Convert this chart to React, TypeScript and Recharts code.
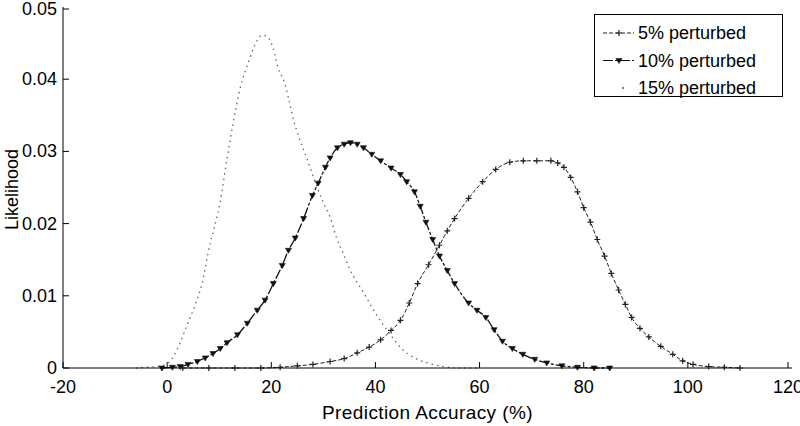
import React from "react";
import { LineChart, Line, XAxis, YAxis, Legend } from "recharts";

const xTicks = [-20, 0, 20, 40, 60, 80, 100, 120];
const yTicks = [0, 0.01, 0.02, 0.03, 0.04, 0.05];
const seriesNames = ["5% perturbed", "10% perturbed", "15% perturbed"];

const p5x = [3, 8, 13, 18, 21.7, 25, 28, 31.3, 34, 36.5, 38.8, 41, 43, 44.8, 46.5, 48.1, 50.2, 52.3, 53.8, 55.2, 57.9, 60.6, 63.1, 65.8, 68.4, 71, 73.7, 75, 76.2, 77.5, 78.8, 80, 81.3, 82.6, 84, 85.3, 86.7, 88, 89.2, 90.8, 92.5, 94.8, 97.1, 99, 101, 104, 107, 110];
const p5y = [0, 0, 0, 0, 0.0001, 0.0003, 0.0005, 0.0009, 0.0013, 0.0021, 0.0029, 0.0039, 0.0052, 0.0066, 0.009, 0.0117, 0.0143, 0.017, 0.019, 0.0207, 0.0235, 0.0258, 0.0275, 0.0285, 0.0287, 0.0287, 0.0287, 0.0284, 0.0278, 0.0264, 0.0244, 0.0222, 0.0202, 0.0178, 0.0155, 0.0131, 0.0108, 0.0088, 0.007, 0.0055, 0.0043, 0.003, 0.0019, 0.001, 0.0005, 0.0002, 0.0001, 0];

const p10x = [-1, 1, 2.5, 4, 5.8, 7.3, 8.8, 10.2, 11.5, 13.5, 15.4, 17.3, 18.8, 20.4, 22.1, 23.3, 24.6, 26.2, 27.9, 29, 30.4, 31.3, 32.7, 34, 35.2, 36.5, 37.7, 39.3, 41, 43, 44.8, 46, 47.5, 48.6, 49.7, 51, 52.3, 53.8, 55.2, 57.9, 59.5, 61.2, 62.8, 64.4, 66.3, 68.3, 70.6, 72.9, 75.8, 78.8, 82, 85];
const p10y = [0, 0.0001, 0.0002, 0.0005, 0.0009, 0.0014, 0.002, 0.0027, 0.0035, 0.0046, 0.0062, 0.008, 0.0094, 0.0117, 0.0142, 0.0163, 0.018, 0.0207, 0.0239, 0.0256, 0.0278, 0.0291, 0.0305, 0.031, 0.0312, 0.031, 0.0305, 0.0296, 0.0287, 0.0277, 0.0268, 0.0258, 0.0244, 0.0224, 0.0202, 0.0178, 0.0155, 0.0135, 0.0117, 0.009, 0.008, 0.007, 0.0053, 0.0037, 0.0027, 0.0019, 0.0012, 0.0007, 0.0003, 0.0001, 0, 0];

const p15x = [-6, -4, -2, 0.2, 2.5, 3.8, 5.2, 6.7, 8.3, 8.9, 10.4, 11.5, 12.7, 14, 15.6, 17, 18.3, 19.3, 20.4, 21.3, 22.5, 23.3, 24.4, 25.2, 27.1, 28.5, 30, 31.3, 32.5, 33.8, 35, 38, 40, 42.5, 45, 47.5, 50, 53, 56, 60];
const p15y = [0, 0.0001, 0.0002, 0.0007, 0.0035, 0.0059, 0.0084, 0.0117, 0.0174, 0.019, 0.0239, 0.029, 0.034, 0.0387, 0.0423, 0.045, 0.0461, 0.0458, 0.0442, 0.0416, 0.0396, 0.0374, 0.034, 0.0322, 0.0285, 0.0256, 0.0229, 0.0209, 0.0181, 0.0159, 0.0138, 0.0101, 0.0076, 0.005, 0.0027, 0.0014, 0.0007, 0.0002, 0, 0];

const zip = (xs: number[], ys: number[]) => xs.map((x, i) => ({ x, y: ys[i] }));
const data5 = zip(p5x, p5y);
const data10 = zip(p10x, p10y);
const data15 = zip(p15x, p15y);

const FONT = "'Liberation Sans', Arial, sans-serif";
const FS = 18;

const PlusDot = (p: any) => {
  const { cx, cy } = p;
  if (cx == null || cy == null) return <g key={`p${p.index}`} />;
  return (
    <path key={`p${p.index}`} d={`M${cx - 3},${cy}H${cx + 3}M${cx},${cy - 3}V${cy + 3}`} stroke="#222" strokeWidth={1.2} fill="none" />
  );
};
const TriDot = (p: any) => {
  const { cx, cy } = p;
  if (cx == null || cy == null) return <g key={`t${p.index}`} />;
  return (
    <path key={`t${p.index}`} d={`M${cx - 3},${cy - 2}L${cx + 3},${cy - 2}L${cx},${cy + 3}Z`} fill="#111" stroke="#111" strokeWidth={0.6} />
  );
};

const BottomTick = (props: any) => {
  const { x, y, payload } = props;
  return (
    <g>
      <line x1={x} x2={x} y1={y} y2={y - 6} stroke="#000" />
      <text x={x} y={y + 25} textAnchor="middle" fontFamily={FONT} fontSize={FS} fill="#000">
        {payload.value}
      </text>
    </g>
  );
};
const TopTick = (props: any) => {
  const { x, y } = props;
  return <line x1={x} x2={x} y1={y} y2={y + 6} stroke="#000" />;
};
const LeftTick = (props: any) => {
  const { x, y, payload } = props;
  return (
    <g>
      <line x1={x} x2={x + 6} y1={y} y2={y} stroke="#000" />
      <text x={x - 6} y={y + 6} textAnchor="end" fontFamily={FONT} fontSize={FS} fill="#000">
        {payload.value}
      </text>
    </g>
  );
};
const RightTick = (props: any) => {
  const { x, y } = props;
  return <line x1={x} x2={x - 6} y1={y} y2={y} stroke="#000" />;
};

const renderLegend = () => {
  const rows = [0, 1, 2];
  return (
    <svg width={189} height={83} style={{ display: "block", overflow: "visible" }}>
      <rect x={0.5} y={0.5} width={188} height={82} fill="#fff" stroke="#000" />
      {rows.map((i) => {
        const base = 25 + i * 27.5;
        const cy = base - 6;
        return (
          <g key={i}>
            {i === 0 && (
              <g>
                <line x1={9} x2={40} y1={cy} y2={cy} stroke="#222" strokeDasharray="4 2" />
                <PlusDot cx={25} cy={cy} index={100} />
              </g>
            )}
            {i === 1 && (
              <g>
                <line x1={9} x2={40} y1={cy} y2={cy} stroke="#111" strokeDasharray="10 2 3 2" />
                <TriDot cx={25} cy={cy} index={101} />
              </g>
            )}
            {i === 2 && <circle cx={29} cy={cy} r={1} fill="#555" />}
            <text x={44} y={base} fontFamily={FONT} fontSize={FS} fill="#000">
              {seriesNames[i]}
            </text>
          </g>
        );
      })}
    </svg>
  );
};

export default function App() {
  return (
    <div style={{ position: "absolute", left: 0, top: 0, background: "#fff" }}>
      <LineChart width={800} height={426} margin={{ top: 7, right: 8, left: 0, bottom: 0 }}>
        <XAxis
          dataKey="x"
          type="number"
          domain={[-20, 120]}
          ticks={xTicks}
          allowDataOverflow
          height={58}
          tickSize={0}
          tickMargin={0}
          tick={BottomTick}
          axisLine={{ stroke: "#000" }}
          label={{ value: "Prediction Accuracy (%)", position: "insideBottom", offset: 7, fontFamily: FONT, fontSize: 19, letterSpacing: 0.4, fill: "#000" }}
        />
        <XAxis
          xAxisId="top"
          orientation="top"
          type="number"
          domain={[-20, 120]}
          ticks={xTicks}
          height={0}
          tickSize={0}
          tickMargin={0}
          tick={TopTick}
          axisLine={{ stroke: "#000" }}
        />
        <YAxis
          type="number"
          domain={[0, 0.05]}
          ticks={yTicks}
          width={63}
          tickSize={0}
          tickMargin={0}
          tick={LeftTick}
          axisLine={{ stroke: "#000" }}
          label={{ value: "Likelihood", angle: -90, position: "insideLeft", offset: 12, dy: 2, fontFamily: FONT, fontSize: FS, fill: "#000", style: { textAnchor: "middle" } }}
        />
        <YAxis
          yAxisId="right"
          orientation="right"
          type="number"
          domain={[0, 0.05]}
          ticks={yTicks}
          width={0}
          tickSize={0}
          tickMargin={0}
          tick={RightTick}
          axisLine={{ stroke: "#000" }}
        />
        <Legend
          layout="vertical"
          align="center"
          verticalAlign="middle"
          content={renderLegend}
          wrapperStyle={{ position: "absolute", left: 594, top: 14, width: 189, height: 83 }}
        />
        <Line data={data15} dataKey="y" name={seriesNames[2]} type="monotone" stroke="#666" strokeWidth={1.3} strokeDasharray="1.5 4" dot={false} isAnimationActive={false} />
        <Line data={data10} dataKey="y" name={seriesNames[1]} type="monotone" stroke="#111" strokeWidth={1.3} strokeDasharray="10 2 3 2" dot={TriDot} isAnimationActive={false} />
        <Line data={data5} dataKey="y" name={seriesNames[0]} type="monotone" stroke="#222" strokeWidth={1} strokeDasharray="4 2" dot={PlusDot} isAnimationActive={false} />
      </LineChart>
    </div>
  );
}
